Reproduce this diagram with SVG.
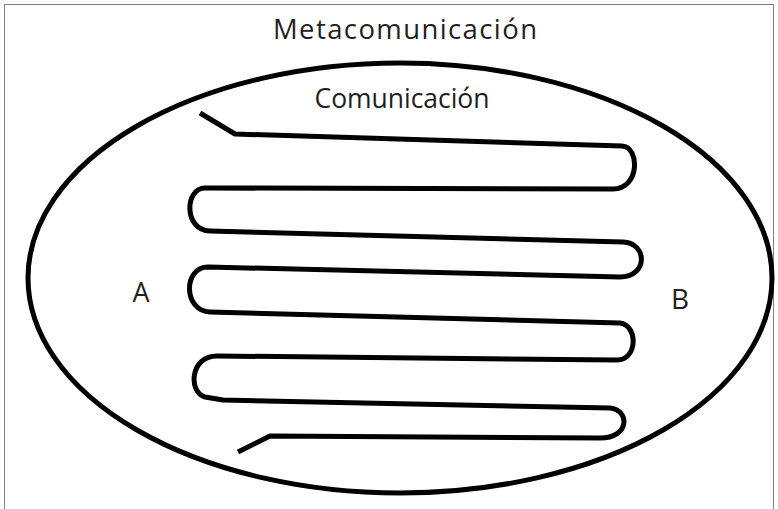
<svg xmlns="http://www.w3.org/2000/svg" width="778" height="509" viewBox="0 0 778 509">
<style>
.lbl{font-family:"Open Sans","Liberation Sans",sans-serif;fill:#231f20;text-anchor:middle}
.ln{fill:none;stroke:#000;stroke-width:5}
</style>
<rect x="0" y="0" width="778" height="509" fill="#fff"/>
<rect x="4.5" y="4.5" width="769" height="510" fill="none" stroke="#7f7f7f" stroke-width="1"/>
<g id="metacomunicacion">
<ellipse class="ln" cx="400" cy="278" rx="372" ry="215"/>
<text class="lbl" x="405" y="39" font-size="27.5" textLength="264" lengthAdjust="spacing">Metacomunicación</text>
</g>
<g id="comunicacion">
<text class="lbl" x="402" y="108" font-size="26.5" textLength="175" lengthAdjust="spacing">Comunicación</text>
</g>
<g id="A"><text class="lbl" x="141" y="302" font-size="27">A</text></g>
<g id="B"><text class="lbl" x="680" y="309" font-size="28">B</text></g>
<g id="connectors">
<path class="ln" stroke-linejoin="round" d="M200,113 L235,134 L622,146 C640,147 640,189 613,189 L205,188 C185,188 183,230 210,231 L623,242 C648,243 648,277 620,277 L208,267 C183,267 183,311 210,312 L620,323 C638,325 638,360 617,360 L217,356 C190,356 188,392 205,397 L223,400 L610,408 C630,410 630,438 600,438 L270,436 L238,452"/>
</g>
</svg>
